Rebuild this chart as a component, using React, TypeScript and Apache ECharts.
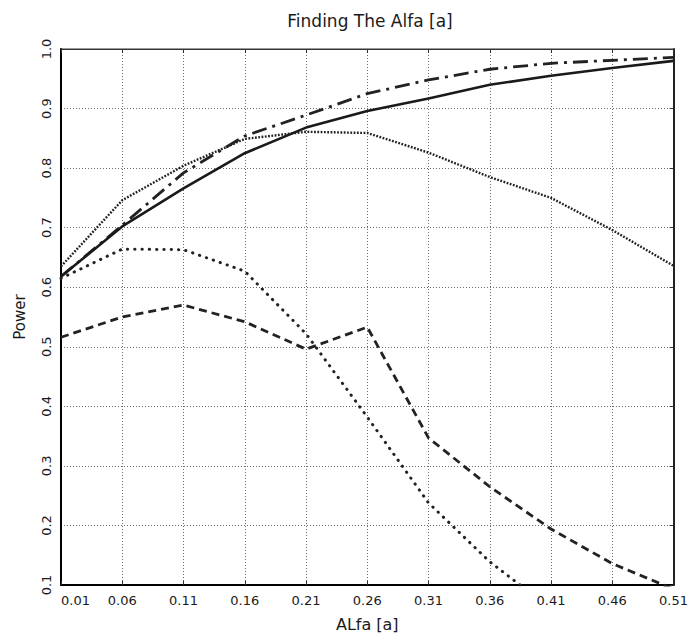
import React, { useEffect, useRef } from "react";
import * as echarts from "echarts";

const categories = ["0.01", "0.06", "0.11", "0.16", "0.21", "0.26", "0.31", "0.36", "0.41", "0.46", "0.51"];
const solidSeries = [0.618, 0.702, 0.766, 0.825, 0.868, 0.896, 0.917, 0.94, 0.955, 0.968, 0.98];
const dashDotSeries = [0.618, 0.704, 0.792, 0.854, 0.889, 0.925, 0.948, 0.966, 0.976, 0.981, 0.986];
const denseDotSeries = [0.635, 0.746, 0.804, 0.849, 0.861, 0.859, 0.826, 0.785, 0.75, 0.696, 0.636];
const sparseDotSeries = [0.615, 0.664, 0.663, 0.627, 0.522, 0.382, 0.238, 0.139, 0.06, 0.0, -0.05];
const dashedSeries = [0.516, 0.55, 0.57, 0.542, 0.496, 0.533, 0.347, 0.265, 0.194, 0.136, 0.093];

const FONT = "DejaVu Sans";
const INK = "#1a1a1a";

export default function App() {
  const ref = useRef<HTMLDivElement>(null);
  useEffect(() => {
    if (!ref.current) return;
    const chart = echarts.init(ref.current, null, { renderer: "svg" });
    const gridLine = { show: true, lineStyle: { color: "#6a6a6a", width: 1, type: [1, 2] as any } };
    chart.setOption({
      animation: false,
      backgroundColor: "#fff",
      textStyle: { fontFamily: FONT, color: INK },
      title: {
        text: "Finding The Alfa [a]",
        left: 370,
        textAlign: "center",
        top: 12,
        padding: 0,
        textStyle: { fontFamily: FONT, fontSize: 17, fontWeight: "normal", color: INK },
      },
      grid: {
        left: 61,
        right: 13,
        top: 49,
        bottom: 47,
        show: true,
        borderColor: "#333",
        borderWidth: 1,
        backgroundColor: "transparent",
      },
      xAxis: [
        {
          type: "category",
          data: categories,
          boundaryGap: false,
          name: "ALfa [a]",
          nameLocation: "middle",
          nameGap: 31,
          nameTextStyle: { fontFamily: FONT, fontSize: 16, color: INK },
          axisLine: { show: true, lineStyle: { color: "#000", width: 2 } },
          axisTick: { show: true, inside: true, length: 4, lineStyle: { color: "#333" } },
          axisLabel: { fontFamily: FONT, fontSize: 13, color: INK, margin: 9, alignMinLabel: "left" },
          splitLine: gridLine,
        },
        {
          type: "category",
          data: categories,
          boundaryGap: false,
          position: "top",
          axisLine: { show: true, lineStyle: { color: "#333", width: 1 } },
          axisTick: { show: true, inside: true, length: 4, lineStyle: { color: "#333" } },
          axisLabel: { show: false },
          splitLine: { show: false },
        },
      ],
      yAxis: [
        {
          type: "value",
          min: 0.1,
          max: 1.0,
          interval: 0.1,
          name: "Power",
          nameLocation: "middle",
          nameGap: 34,
          nameRotate: 90,
          nameTextStyle: { fontFamily: FONT, fontSize: 15, color: INK },
          axisLine: { show: true, lineStyle: { color: "#000", width: 2 } },
          axisTick: { show: false },
          axisLabel: {
            fontFamily: FONT,
            fontSize: 13,
            color: INK,
            rotate: 90,
            margin: 8,
            formatter: (v: number) => v.toFixed(1),
          },
          splitLine: gridLine,
        },
        {
          type: "value",
          min: 0.1,
          max: 1.0,
          interval: 0.1,
          position: "right",
          axisLine: { show: true, lineStyle: { color: "#222", width: 2 } },
          axisTick: { show: true, inside: true, length: 4, lineStyle: { color: "#333" } },
          axisLabel: { show: false },
          splitLine: { show: false },
        },
      ],
      series: [
        {
          type: "line",
          data: sparseDotSeries,
          symbol: "none",
          clip: true,
          lineStyle: { color: "#222", width: 3, type: [0.3, 7], cap: "round" },
        },
        {
          type: "line",
          data: dashedSeries,
          symbol: "none",
          clip: true,
          lineStyle: { color: "#222", width: 2.8, type: [8, 5] },
        },
        {
          type: "line",
          data: denseDotSeries,
          symbol: "none",
          clip: true,
          lineStyle: { color: "#222", width: 2.4, type: [1.8, 1.5] },
        },
        {
          type: "line",
          data: dashDotSeries,
          symbol: "none",
          clip: true,
          lineStyle: { color: "#222", width: 2.8, type: [15, 6, 3, 6] },
        },
        {
          type: "line",
          data: solidSeries,
          symbol: "none",
          clip: true,
          lineStyle: { color: "#1a1a1a", width: 2.6, type: "solid" },
        },
      ],
    });
    return () => chart.dispose();
  }, []);
  return (
    <div
      ref={ref}
      style={{ position: "fixed", left: 0, top: 0, width: 691, height: 637, background: "#fff" }}
    />
  );
}
